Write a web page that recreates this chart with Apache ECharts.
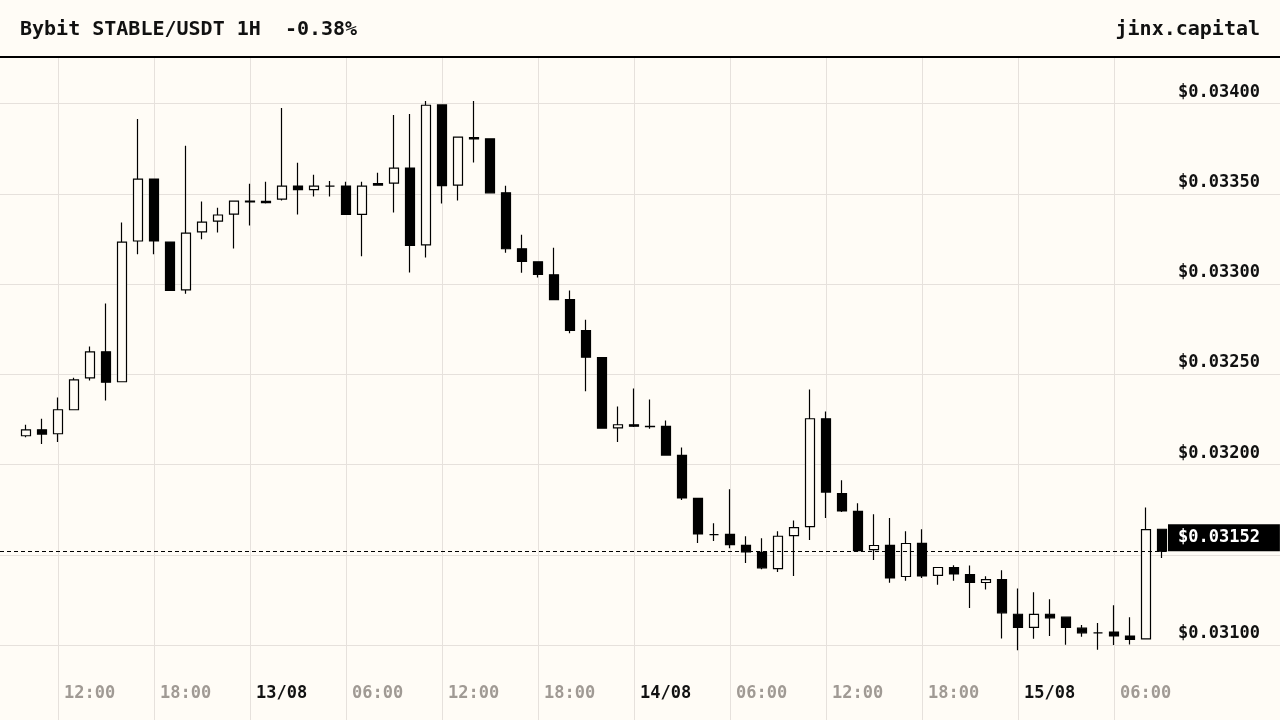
<!DOCTYPE html>
<html>
<head>
<meta charset="utf-8">
<script src="https://cdn.jsdelivr.net/npm/echarts@6/dist/echarts.min.js"></script>
<style>
html,body{margin:0;padding:0;background:#fffcf6;}
#chart{width:1280px;height:720px;}
</style>
</head>
<body>
<div id="chart"></div>
<script>
const titleText = 'Bybit STABLE/USDT 1H  -0.38%';
const brandText = 'jinx.capital';

const times = [
 '2025-08-12 10:00','2025-08-12 11:00','2025-08-12 12:00','2025-08-12 13:00','2025-08-12 14:00','2025-08-12 15:00',
 '2025-08-12 16:00','2025-08-12 17:00','2025-08-12 18:00','2025-08-12 19:00','2025-08-12 20:00','2025-08-12 21:00',
 '2025-08-12 22:00','2025-08-12 23:00',
 '2025-08-13 00:00','2025-08-13 01:00','2025-08-13 02:00','2025-08-13 03:00','2025-08-13 04:00','2025-08-13 05:00',
 '2025-08-13 06:00','2025-08-13 07:00','2025-08-13 08:00','2025-08-13 09:00','2025-08-13 10:00','2025-08-13 11:00',
 '2025-08-13 12:00','2025-08-13 13:00','2025-08-13 14:00','2025-08-13 15:00','2025-08-13 16:00','2025-08-13 17:00',
 '2025-08-13 18:00','2025-08-13 19:00','2025-08-13 20:00','2025-08-13 21:00','2025-08-13 22:00','2025-08-13 23:00',
 '2025-08-14 00:00','2025-08-14 01:00','2025-08-14 02:00','2025-08-14 03:00','2025-08-14 04:00','2025-08-14 05:00',
 '2025-08-14 06:00','2025-08-14 07:00','2025-08-14 08:00','2025-08-14 09:00','2025-08-14 10:00','2025-08-14 11:00',
 '2025-08-14 12:00','2025-08-14 13:00','2025-08-14 14:00','2025-08-14 15:00','2025-08-14 16:00','2025-08-14 17:00',
 '2025-08-14 18:00','2025-08-14 19:00','2025-08-14 20:00','2025-08-14 21:00','2025-08-14 22:00','2025-08-14 23:00',
 '2025-08-15 00:00','2025-08-15 01:00','2025-08-15 02:00','2025-08-15 03:00','2025-08-15 04:00','2025-08-15 05:00',
 '2025-08-15 06:00','2025-08-15 07:00','2025-08-15 08:00','2025-08-15 09:00'
];

const opens = [
 0.032160,0.032193,0.032171,0.032304,0.032481,0.032625,0.032459,0.033239,0.033582,0.033233,0.032968,0.033289,
 0.033349,0.033388,0.033460,0.033458,0.033471,0.033543,0.033524,0.033543,0.033543,0.033386,0.033557,0.033560,
 0.033643,0.033217,0.033993,0.033549,0.033812,0.033805,0.033506,0.033196,0.033124,0.033052,0.032914,0.032743,
 0.032593,0.032204,0.032221,0.032212,0.032212,0.032051,0.031813,0.031612,0.031614,0.031553,0.031514,0.031424,
 0.031607,0.031657,0.032254,0.031839,0.031741,0.031529,0.031553,0.031380,0.031564,0.031386,0.031430,0.031391,
 0.031347,0.031363,0.031171,0.031098,0.031171,0.031155,0.031094,0.031068,0.031072,0.031050,0.031035,0.031642
];
const closes = [
 0.032193,0.032169,0.032304,0.032470,0.032625,0.032457,0.033233,0.033582,0.033239,0.032965,0.033283,0.033344,
 0.033383,0.033460,0.033455,0.033452,0.033543,0.033524,0.033543,0.033543,0.033386,0.033543,0.033549,0.033643,
 0.033214,0.033991,0.033546,0.033814,0.033805,0.033506,0.033196,0.033126,0.033054,0.032914,0.032744,0.032595,
 0.032202,0.032221,0.032213,0.032210,0.032053,0.031815,0.031616,0.031612,0.031557,0.031516,0.031428,0.031603,
 0.031651,0.032254,0.031848,0.031743,0.031524,0.031552,0.031372,0.031563,0.031383,0.031430,0.031394,0.031347,
 0.031363,0.031179,0.031098,0.031170,0.031151,0.031098,0.031068,0.031068,0.031051,0.031032,0.031640,0.031520
];
const lows = [
 0.032152,0.032114,0.032125,0.032304,0.032466,0.032355,0.032459,0.033165,0.033165,0.032965,0.032946,0.033248,
 0.033286,0.033198,0.033325,0.033447,0.033463,0.033386,0.033486,0.033486,0.033386,0.033154,0.033549,0.033397,
 0.033065,0.033148,0.033447,0.033463,0.033674,0.033506,0.033174,0.033063,0.033037,0.032914,0.032728,0.032407,
 0.032202,0.032125,0.032208,0.032199,0.032053,0.031804,0.031566,0.031577,0.031537,0.031455,0.031420,0.031405,
 0.031383,0.031583,0.031704,0.031737,0.031516,0.031472,0.031345,0.031356,0.031372,0.031334,0.031356,0.031206,
 0.031308,0.031037,0.030972,0.031035,0.031051,0.031002,0.031046,0.030974,0.031000,0.031004,0.031035,0.031483
];
const highs = [
 0.032221,0.032254,0.032372,0.032481,0.032654,0.032892,0.033342,0.033915,0.033582,0.033233,0.033766,0.033458,
 0.033423,0.033460,0.033556,0.033567,0.033976,0.033672,0.033606,0.033572,0.033567,0.033567,0.033617,0.033937,
 0.033943,0.034015,0.033993,0.033814,0.034015,0.033805,0.033545,0.033273,0.033124,0.033202,0.032964,0.032803,
 0.032593,0.032322,0.032422,0.032361,0.032245,0.032095,0.031813,0.031675,0.031863,0.031603,0.031592,0.031631,
 0.031691,0.032416,0.032294,0.031913,0.031786,0.031725,0.031704,0.031631,0.031642,0.031430,0.031443,0.031441,
 0.031382,0.031415,0.031314,0.031293,0.031254,0.031155,0.031111,0.031122,0.031221,0.031155,0.031763,0.031642
];

const priceTicks = [0.0310, 0.0315, 0.0320, 0.0325, 0.0330, 0.0335, 0.0340];

const FONT = 'DejaVu Sans Mono';
const BG = '#fffcf6';
const GRID = '#e6e1dc';

function parseLocal(s) {
  const m = s.match(/(\d+)-(\d+)-(\d+) (\d+):(\d+)(?::(\d+))?/);
  return new Date(+m[1], +m[2] - 1, +m[3], +m[4], +m[5], +(m[6] || 0)).getTime();
}

const data = times.map((t, i) => [parseLocal(t), opens[i], closes[i], lows[i], highs[i]]);
const lastClose = closes[closes.length - 1];
const lastLabel = '$' + lastClose.toFixed(5);

const xMin = parseLocal('2025-08-12 08:22:30');
const xMax = parseLocal('2025-08-15 09:22:30');
const yMin = 0.0305851;
const yMax = 0.0342528;

const chart = echarts.init(document.getElementById('chart'), null, {renderer: 'canvas'});

function pad2(n) { return (n < 10 ? '0' : '') + n; }

chart.setOption({
  backgroundColor: BG,
  animation: false,
  title: [
    {text: titleText, left: 20, top: 20, padding: 0,
     textStyle: {fontFamily: FONT, fontWeight: 'bold', fontSize: 20, color: '#111'}},
    {text: brandText, right: 20, top: 20, padding: 0,
     textStyle: {fontFamily: FONT, fontWeight: 'bold', fontSize: 20, color: '#111'}}
  ],
  graphic: [
    {type: 'rect', left: 0, top: 56, shape: {width: 1280, height: 2}, style: {fill: '#000'}, z: 100}
  ],
  grid: [
    {left: 0, right: 112, top: 58, bottom: 0, outerBoundsMode: 'none', containLabel: false},
    {left: 0, right: 0, top: 58, bottom: 0, outerBoundsMode: 'none', containLabel: false}
  ],
  xAxis: [{
    type: 'time',
    gridIndex: 0,
    min: xMin,
    max: xMax,
    splitNumber: 10,
    axisLine: {show: false},
    axisTick: {show: false},
    splitLine: {show: true, showMinLine: false, showMaxLine: false, lineStyle: {color: GRID, width: 1}},
    axisLabel: {
      inside: true,
      margin: 18,
      align: 'left',
      showMinLabel: false,
      showMaxLabel: false,
      formatter: function (v) {
        const d = new Date(v);
        if (d.getMinutes() !== 0 || d.getSeconds() !== 0) return '';
        if (d.getHours() === 0) return '{d|' + pad2(d.getDate()) + '/' + pad2(d.getMonth() + 1) + '}';
        return '{t|' + pad2(d.getHours()) + ':' + pad2(d.getMinutes()) + '}';
      },
      rich: {
        d: {fontFamily: FONT, fontWeight: 'bold', fontSize: 17, color: '#111', padding: [0, 0, 0, 6]},
        t: {fontFamily: FONT, fontWeight: 'bold', fontSize: 17, color: '#a09a94', padding: [0, 0, 0, 6]}
      }
    }
  }, {
    type: 'value', gridIndex: 1, min: 0, max: 1, show: false
  }],
  yAxis: [{
    type: 'value',
    gridIndex: 0,
    position: 'right',
    min: yMin,
    max: yMax,
    splitNumber: 7,
    show: false,
    splitLine: {show: false}
  }, {
    type: 'value',
    gridIndex: 1,
    position: 'right',
    min: yMin,
    max: yMax,
    splitNumber: 7,
    axisLine: {show: false},
    axisTick: {show: false},
    splitLine: {show: true, showMinLine: false, showMaxLine: false, lineStyle: {color: GRID, width: 1}},
    axisLabel: {
      inside: true,
      margin: 20,
      showMinLabel: false,
      showMaxLabel: false,
      verticalAlign: 'bottom',
      padding: [0, 0, 3, 0],
      fontFamily: FONT, fontWeight: 'bold', fontSize: 17, color: '#111',
      formatter: function (v) {
        const near = priceTicks.some(p => Math.abs(p - v) < 1e-9);
        if (!near) return '';
        if (Math.abs(v - lastClose) < 0.0001) return '';
        return '$' + v.toFixed(5);
      }
    }
  }],
  series: [{
    type: 'candlestick',
    xAxisIndex: 0,
    yAxisIndex: 0,
    data: data,
    barWidth: 10,
    itemStyle: {
      color: BG,
      color0: '#000',
      borderColor: '#000',
      borderColor0: '#000',
      borderWidth: 1.2
    },
    markLine: {
      silent: true,
      symbol: ['none', 'none'],
      precision: 6,
      lineStyle: {type: [4, 3], color: '#000', width: 1},
      label: {
        show: true,
        position: 'end',
        distance: 0,
        verticalAlign: 'bottom',
        align: 'left',
        formatter: lastLabel,
        backgroundColor: '#000',
        color: '#fff',
        fontFamily: FONT, fontWeight: 'bold', fontSize: 17,
        padding: [5, 20, 5, 10]
      },
      data: [{yAxis: lastClose}]
    }
  }]
});
</script>
</body>
</html>
